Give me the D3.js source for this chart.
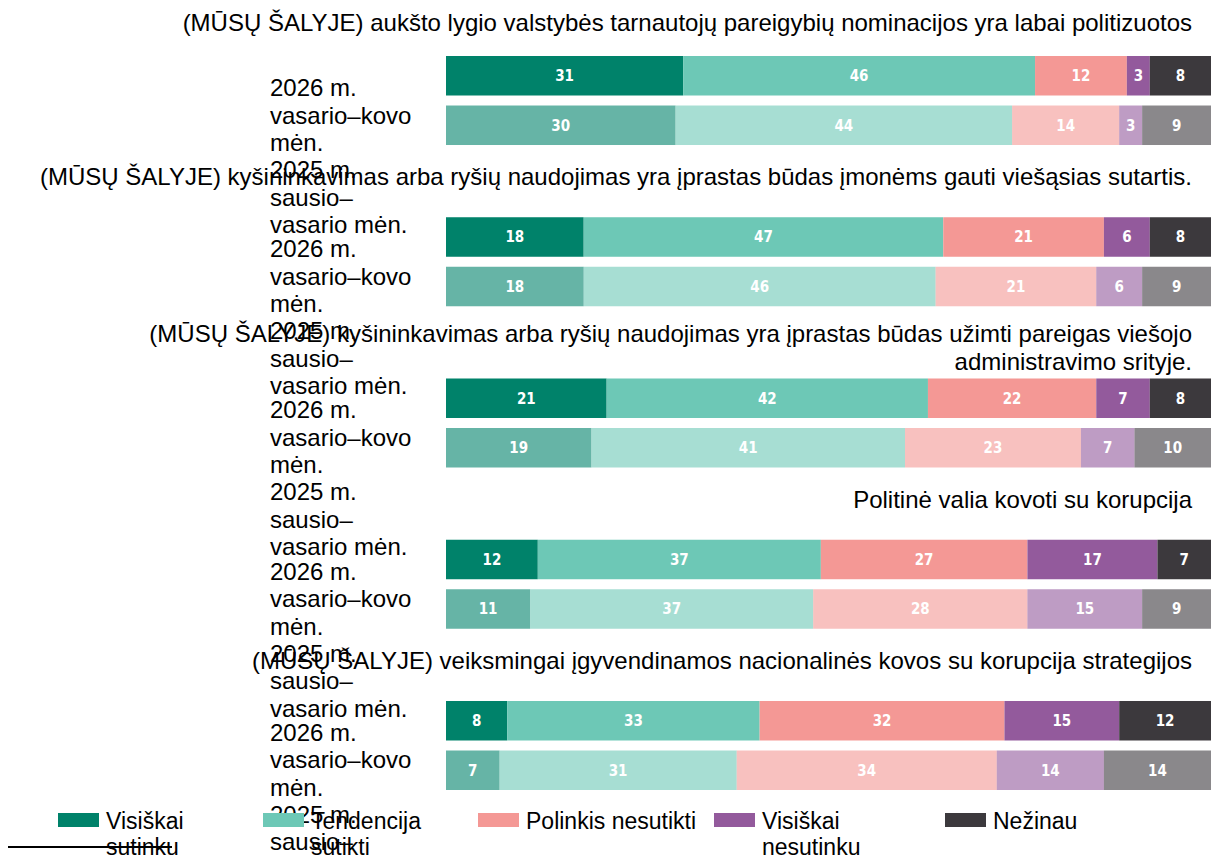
<!DOCTYPE html>
<html>
<head>
<meta charset="utf-8">
<script src="https://cdn.jsdelivr.net/npm/d3@7"></script>
<style>
  body { margin: 0; background: #fff; }
  svg { display: block; font-family: 'Liberation Sans', Arial, sans-serif; }
</style>
</head>
<body>
<svg id="chart" width="1212" height="858"></svg>
<script>
const questions = [
  '(MŪSŲ ŠALYJE) aukšto lygio valstybės tarnautojų pareigybių nominacijos yra labai politizuotos',
  '(MŪSŲ ŠALYJE) kyšininkavimas arba ryšių naudojimas yra įprastas būdas įmonėms gauti viešąsias sutartis.',
  '(MŪSŲ ŠALYJE) kyšininkavimas arba ryšių naudojimas yra įprastas būdas užimti pareigas viešojo administravimo srityje.',
  'Politinė valia kovoti su korupcija',
  '(MŪSŲ ŠALYJE) veiksmingai įgyvendinamos nacionalinės kovos su korupcija strategijos'
];
const waves = ['2026', '2025'];
const waveLabels = [
  ['2026 m.', 'vasario–kovo', 'mėn.'],
  ['2025 m.', 'sausio–', 'vasario mėn.']
];
const categories = ['Visiškai sutinku', 'Tendencija sutikti', 'Polinkis nesutikti', 'Visiškai nesutinku', 'Nežinau'];
const legendLines = [['Visiškai', 'sutinku'], ['Tendencija', 'sutikti'], ['Polinkis nesutikti'], ['Visiškai', 'nesutinku'], ['Nežinau']];
const colors = ['#00826A', '#6DC8B6', '#F49895', '#935A9C', '#3C393D'];
const values2026 = [
  [31, 46, 12, 3, 8],
  [18, 47, 21, 6, 8],
  [21, 42, 22, 7, 8],
  [12, 37, 27, 17, 7],
  [8, 33, 32, 15, 12]
];
const values2025 = [
  [30, 44, 14, 3, 9],
  [18, 46, 21, 6, 9],
  [19, 41, 23, 7, 10],
  [11, 37, 28, 15, 9],
  [7, 31, 34, 14, 14]
];

const svg = d3.select('#chart');

const rows = [];
questions.forEach((q, qi) => {
  [values2026, values2025].forEach((vals, wi) => {
    const row = { q, wave: waves[wi] };
    categories.forEach((c, ci) => { row[c] = vals[qi][ci]; });
    rows.push(row);
  });
});

const stacked = d3.stack().keys(categories)(rows);

const x = d3.scaleLinear().domain([0, 100]).range([446, 1211]);
const y0 = d3.scaleBand().domain(questions).range([56, 790]).paddingInner(0.448).paddingOuter(0);
const y1 = d3.scaleBand().domain(waves).range([0, y0.bandwidth()]).paddingInner(0.202);
const color = d3.scaleOrdinal().domain(categories).range(colors);

// bars
const layers = svg.append('g').selectAll('g')
  .data(stacked).enter()
  .append('g')
  .attr('fill', (d) => color(d.key));

layers.selectAll('rect')
  .data((d) => d).enter()
  .append('rect')
  .attr('x', (d) => x(d[0]))
  .attr('width', (d) => x(d[1]) - x(d[0]))
  .attr('y', (d) => y0(d.data.q) + y1(d.data.wave))
  .attr('height', y1.bandwidth())
  .attr('fill-opacity', (d) => (d.data.wave === '2025' ? 0.6 : 1));

layers.selectAll('text')
  .data((d) => d.map((p) => ({ p, key: d.key }))).enter()
  .append('text')
  .attr('x', (d) => (x(d.p[0]) + x(d.p[1])) / 2)
  .attr('y', (d) => y0(d.p.data.q) + y1(d.p.data.wave) + y1.bandwidth() / 2)
  .attr('dy', '0.36em')
  .attr('text-anchor', 'middle')
  .attr('fill', '#fff')
  .style('font-family', "'Liberation Sans Narrow', 'DejaVu Sans Condensed', sans-serif")
  .style('font-weight', 'bold')
  .style('font-size', '15px')
  .text((d) => d.p.data[d.key]);

// question titles, wrapped and right aligned
const titles = svg.append('g');
questions.forEach((q, qi) => {
  const t = titles.append('text')
    .attr('text-anchor', 'end')
    .attr('x', 1192)
    .attr('y', y0(q) - (qi === 0 ? 25 : 32))
    .style('font-size', '24px')
    .attr('fill', '#000');
  const words = q.split(' ');
  let line = [];
  let tspan = t.append('tspan').attr('x', 1192).attr('dy', 0);
  let lineNo = 0;
  words.forEach((w) => {
    line.push(w);
    tspan.text(line.join(' '));
    if (tspan.node().getComputedTextLength() > 1170 && line.length > 1) {
      line.pop();
      tspan.text(line.join(' '));
      line = [w];
      lineNo += 1;
      tspan = t.append('tspan').attr('x', 1192).attr('dy', '1.15em').text(w);
    }
  });
  // multi-line titles sit higher so the block ends near the bars
  if (lineNo > 0) t.attr('y', y0(q) - 36);
});

// wave labels (positioned as in the original, offset from the bars)
const labels = svg.append('g').style('font-size', '24px').attr('fill', '#000');
questions.forEach((q) => {
  waves.forEach((w, wi) => {
    const t = labels.append('text')
      .attr('x', 270)
      .attr('y', y0(q) + 40 + wi * 82);
    waveLabels[wi].forEach((ln, li) => {
      t.append('tspan').attr('x', 270).attr('dy', li === 0 ? 0 : 27.5).text(ln);
    });
  });
});

// legend
const legendX = [58, 263, 478, 714, 945];
const legend = svg.append('g').selectAll('g')
  .data(categories).enter()
  .append('g')
  .attr('transform', (d, i) => `translate(${legendX[i]},813)`);

legend.append('rect')
  .attr('width', 41)
  .attr('height', 14)
  .attr('fill', (d) => color(d));

legend.append('text')
  .attr('x', 48)
  .attr('y', 16)
  .style('font-size', '23px')
  .attr('fill', '#000')
  .each(function (d, i) {
    legendLines[i].forEach((ln, li) => {
      d3.select(this).append('tspan').attr('x', 48).attr('dy', li === 0 ? 0 : 26).text(ln);
    });
  });

svg.append('line')
  .attr('x1', 8).attr('x2', 172)
  .attr('y1', 847).attr('y2', 847)
  .attr('stroke', '#000')
  .attr('stroke-width', 2);
</script>
</body>
</html>
